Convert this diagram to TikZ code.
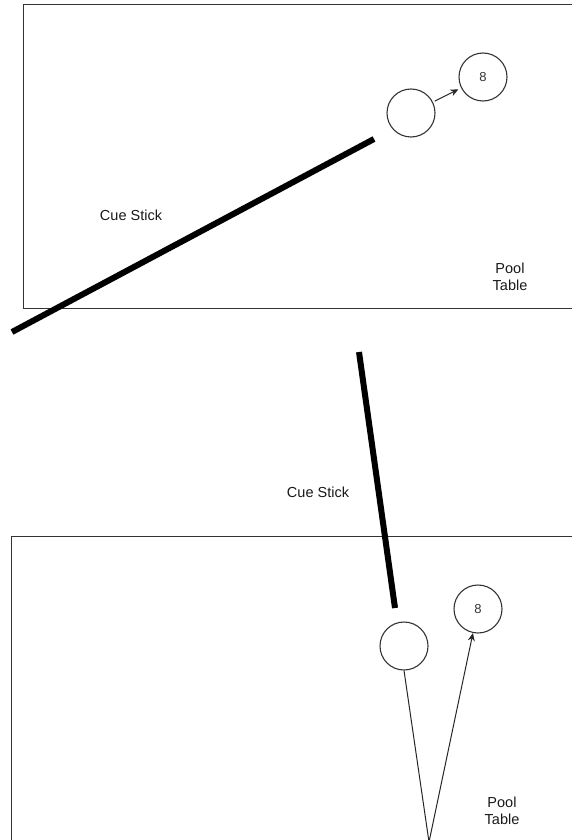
\documentclass[tikz,border=0pt]{standalone}
\usepackage{fontspec}
\setmainfont{Liberation Sans}
\usetikzlibrary{arrows.meta}
\tikzset{
    ball/.style={circle, draw=black!80, line width=1.1pt, minimum size=48pt, inner sep=0pt, font=\fontsize{13}{15}\selectfont, text=black!80},
    stick/.style={line width=6pt, line cap=butt},
    table/.style={draw=black!80, line width=1pt},
    shot/.style={draw=black!85, line width=1pt},
    tablelabel/.style={align=center, font=\fontsize{14.5}{17.5}\selectfont, text=black!90}
}
\begin{document}
\begin{tikzpicture}[x=1pt, y=-1pt]
            \useasboundingbox (0,0) rectangle (572,840);
            \clip (0,0) rectangle (572,840);

            % top: straight shot
            \begin{scope}
                \draw[table] (600,5) -- (23,5) -- (23,308) -- (600,308);
                \node[ball] (cue1) at (411,113) {};
                \node[ball] (eight1) at (483,77) {8};
                \draw[shot, -{Stealth[length=8pt, width=7pt]}, shorten <=2pt, shorten >=3pt] (cue1) -- (eight1);

                \coordinate (butt1) at (12,332);
                \coordinate (tip1) at (374,139);
                \draw[stick] (butt1) -- (tip1);

                \node[tablelabel] (stick1) at (131,215) {Cue Stick};
                \node[tablelabel] (table1) at (510,277) {Pool\\Table};
            \end{scope}

            % bottom: bank shot
            \begin{scope}
                \draw[table] (600,536) -- (11,536) -- (11,860);
                \node[ball] (cue2) at (404,646) {};
                \node[ball] (eight2) at (478,609) {8};
                \coordinate (bounce) at (429,842);
                \draw[shot, -{Stealth[length=8pt, width=7pt]}] (cue2.south) -- (bounce) -- (eight2);

                \coordinate (butt2) at (359,352);
                \coordinate (tip2) at (395,608);
                \draw[stick] (butt2) -- (tip2);

                \node[tablelabel] (stick2) at (318,492) {Cue Stick};
                \node[tablelabel] (table2) at (502,811) {Pool\\Table};
            \end{scope}
        \end{tikzpicture}
\end{document}
